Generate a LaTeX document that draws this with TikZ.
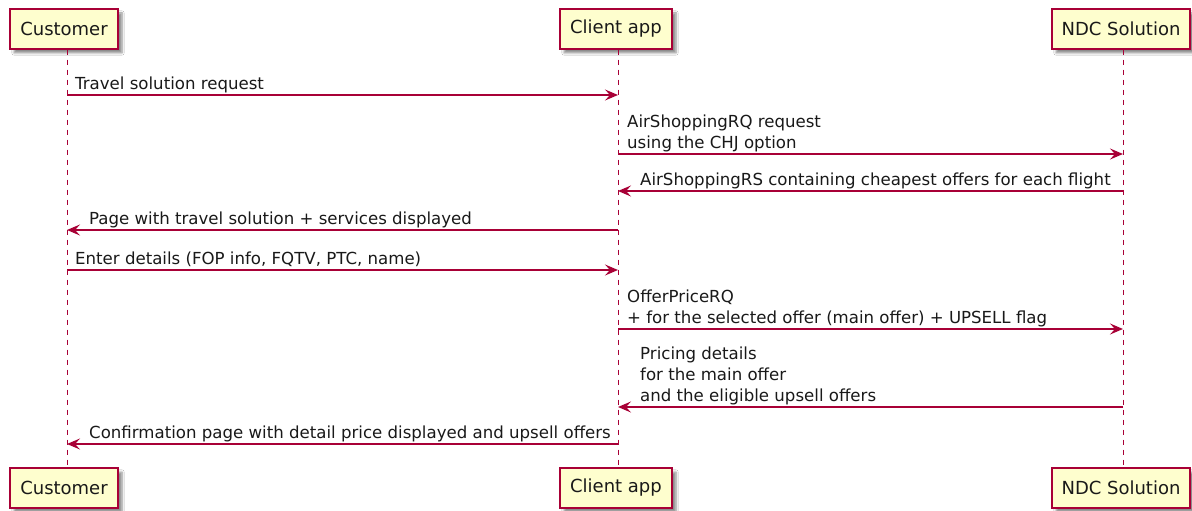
\documentclass[tikz,border=0pt]{standalone}
\usepackage{fontspec}
\setmainfont{DejaVu Sans}
\usetikzlibrary{arrows.meta,shadows.blur}
\definecolor{pborder}{HTML}{A80036}
\definecolor{pfill}{HTML}{FEFECE}
\begin{document}
\begin{tikzpicture}[x=1pt,y=-1pt,
  every node/.style={font=\fontsize{16.6}{21}\selectfont, text=black!90},
  part/.style={draw=pborder, line width=1.3pt, fill=pfill, minimum height=40pt, inner sep=0pt,
    font=\fontsize{18}{21}\selectfont,
    blur shadow={shadow xshift=4pt, shadow yshift=-4pt, shadow blur steps=6, shadow opacity=45}},
  life/.style={draw=pborder, line width=1pt, dash pattern=on 5pt off 5pt},
  msg/.style={draw=pborder, line width=1.3pt, -{Stealth[length=13pt,width=11pt,inset=5pt]}},
  lbl/.style={anchor=base west, inner sep=0pt, align=left}]
\useasboundingbox (0,0) rectangle (1192,511);
\fill[white] (0,0) rectangle (1192,511);
% participants
\node[part, minimum width=108pt] (cT) at (64,29) {Customer};
\node[part, minimum width=112pt] (aT) at (616,29) {Client app};
\node[part, minimum width=138pt] (nT) at (1121,29) {NDC Solution};
\node[part, minimum width=108pt] (cB) at (64,488) {Customer};
\node[part, minimum width=112pt] (aB) at (616,488) {Client app};
\node[part, minimum width=138pt] (nB) at (1121,488) {NDC Solution};
% lifeline axes
\coordinate (L1) at (67,0);
\coordinate (L2) at (618,0);
\coordinate (L3) at (1123,0);
\path[life] (L1 |- cT.south) -- (L1 |- cB.north);
\path[life] (L2 |- aT.south) -- (L2 |- aB.north);
\path[life] (L3 |- nT.south) -- (L3 |- nB.north);
% messages
\path[msg] (L1 |- 0,95) -- (L2 |- 0,95);
\node[lbl] (m1) at (75,89) {Travel solution request};

\path[msg] (L2 |- 0,154) -- (L3 |- 0,154);
\node[lbl] (m2) at (627,148) {AirShoppingRQ request\\using the CHJ option};

\path[msg] (L3 |- 0,191) -- (L2 |- 0,191);
\node[lbl] (m3) at (640,185) {AirShoppingRS containing cheapest offers for each flight};

\path[msg] (L2 |- 0,230) -- (L1 |- 0,230);
\node[lbl] (m4) at (89,224) {Page with travel solution + services displayed};

\path[msg] (L1 |- 0,270) -- (L2 |- 0,270);
\node[lbl] (m5) at (75,264) {Enter details (FOP info, FQTV, PTC, name)};

\path[msg] (L2 |- 0,329) -- (L3 |- 0,329);
\node[lbl] (m6) at (627,323) {OfferPriceRQ\\+ for the selected offer (main offer) + UPSELL flag};

\path[msg] (L3 |- 0,407) -- (L2 |- 0,407);
\node[lbl] (m7) at (640,401) {Pricing details\\for the main offer\\and the eligible upsell offers};

\path[msg] (L2 |- 0,444) -- (L1 |- 0,444);
\node[lbl] (m8) at (89,438) {Confirmation page with detail price displayed and upsell offers};
\end{tikzpicture}
\end{document}
